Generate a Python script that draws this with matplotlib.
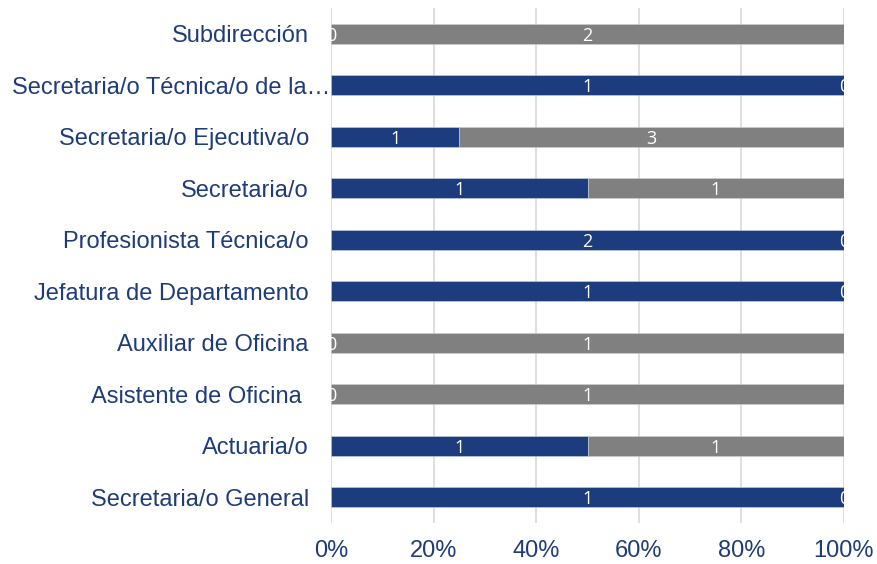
import matplotlib.pyplot as plt
import matplotlib.transforms as mtransforms
import numpy as np

# Datos (de abajo hacia arriba)
categorias = ['Secretaria/o General', 'Actuaria/o', 'Asistente de Oficina ', 'Auxiliar de Oficina',
              'Jefatura de Departamento', 'Profesionista Técnica/o', 'Secretaria/o',
              'Secretaria/o Ejecutiva/o', 'Secretaria/o Técnica/o de la…', 'Subdirección']
serie_azul = [1, 1, 0, 0, 1, 2, 1, 1, 1, 0]
serie_gris = [0, 1, 1, 1, 0, 0, 1, 3, 0, 2]
ticks_x = [0, 20, 40, 60, 80, 100]

azul = '#1C3C7D'
gris = '#808080'
texto = '#1F3C7A'

azul_arr = np.array(serie_azul, dtype=float)
gris_arr = np.array(serie_gris, dtype=float)
total = azul_arr + gris_arr
pct_azul = azul_arr / total * 100
pct_gris = gris_arr / total * 100

fig = plt.figure(figsize=(8.77, 5.64), dpi=100)
ax = fig.add_axes([331/877, 41/564, 513/877, 515/564])

y = np.arange(len(categorias))
h = 0.39
ax.barh(y, pct_azul, height=h, color=azul, edgecolor='#C9D3E6', linewidth=0.4, zorder=3)
ax.barh(y, pct_gris, left=pct_azul, height=h, color=gris, edgecolor='#D0D0D0', linewidth=0.4, zorder=3)

for i in range(len(categorias)):
    ax.text(pct_azul[i] / 2, y[i] - 0.04, str(serie_azul[i]), color='white', fontsize=13,
            ha='center', va='center', zorder=4, family='Open Sans')
    ax.text(pct_azul[i] + pct_gris[i] / 2, y[i] - 0.04, str(serie_gris[i]), color='white', fontsize=13,
            ha='center', va='center', zorder=4, family='Open Sans')

ax.set_xlim(0, 100)
ax.set_ylim(-0.5, len(categorias) - 0.5)
ax.set_xticks(ticks_x)
ax.set_xticklabels([f'{t}%' for t in ticks_x])
ax.set_yticks(y)
ax.set_yticklabels(categorias)
ax.grid(axis='x', color='#D9D9D9', linewidth=1.2, zorder=0)
ax.set_axisbelow(True)
for s in ax.spines.values():
    s.set_visible(False)
ax.tick_params(axis='both', length=0, colors=texto, labelsize=17)
ax.tick_params(axis='y', pad=16)
ax.tick_params(axis='x', pad=12)
for lab in ax.get_xticklabels() + ax.get_yticklabels():
    lab.set_family('Liberation Sans')

# la etiqueta truncada llega casi al eje, como en el original
lab_larga = ax.get_yticklabels()[8]
lab_larga.set_transform(lab_larga.get_transform() +
                        mtransforms.ScaledTranslation(0.21, 0, fig.dpi_scale_trans))

fig.savefig('out.png', dpi=100)
